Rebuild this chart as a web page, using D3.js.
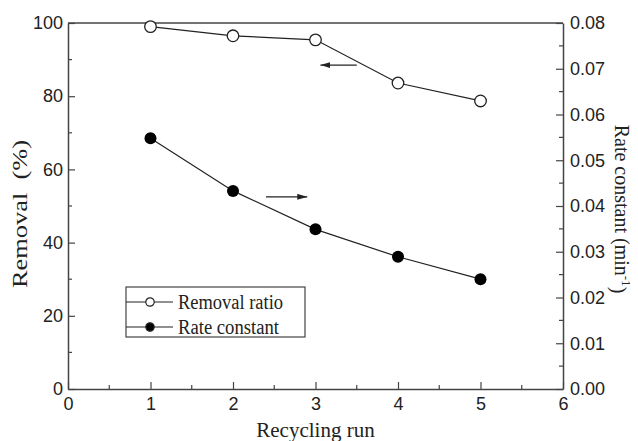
<!DOCTYPE html>
<html>
<head>
<meta charset="utf-8">
<script src="https://cdn.jsdelivr.net/npm/d3@7"></script>
<style>
  body { margin: 0; background: #fff; }
  .tick text { font-family: "Liberation Sans", Arial, sans-serif; font-size: 18px; fill: #222; }
  .title { font-family: "Liberation Serif", "Times New Roman", serif; font-size: 20px; fill: #222; }
</style>
</head>
<body>
<svg id="chart" width="638" height="441"></svg>
<script>
// Data
const runs = [1, 2, 3, 4, 5];
const removal = [99.0, 96.5, 95.4, 83.6, 78.7];
const rateConstant = [0.0548, 0.0433, 0.0349, 0.0289, 0.0240];
const xTicks = [0, 1, 2, 3, 4, 5, 6];
const leftTicks = [0, 20, 40, 60, 80, 100];
const rightTicks = [0, 0.01, 0.02, 0.03, 0.04, 0.05, 0.06, 0.07, 0.08];

const margin = { top: 23, right: 75, bottom: 52, left: 68 };
const width = 638 - margin.left - margin.right;
const height = 441 - margin.top - margin.bottom;
const ink = '#222';

const svg = d3.select('#chart');
const g = svg.append('g').attr('transform', `translate(${margin.left},${margin.top})`);

const x = d3.scaleLinear().domain([0, 6]).range([0, width]);
const yL = d3.scaleLinear().domain([0, 100]).range([height, 0]);
const yR = d3.scaleLinear().domain([0, 0.08]).range([height, 0]);

// Minor ticks (inside)
const minor = g.append('g').attr('stroke', '#444').attr('stroke-width', 1.2);
d3.range(0.5, 6, 1).forEach(v => {
    minor.append('line').attr('x1', x(v)).attr('x2', x(v)).attr('y1', height).attr('y2', height - 4);
});
d3.range(10, 100, 20).forEach(v => {
    minor.append('line').attr('x1', 0).attr('x2', 4).attr('y1', yL(v)).attr('y2', yL(v));
});
d3.range(0.005, 0.08, 0.01).forEach(v => {
    minor.append('line').attr('x1', width).attr('x2', width - 4).attr('y1', yR(v)).attr('y2', yR(v));
});

// Axes with inward ticks
const xAxis = g.append('g').attr('transform', `translate(0,${height})`)
    .call(d3.axisBottom(x).tickValues(xTicks).tickFormat(d3.format('d')).tickSizeInner(-7).tickSizeOuter(0).tickPadding(8));
const lAxis = g.append('g')
    .call(d3.axisLeft(yL).tickValues(leftTicks).tickFormat(d3.format('d')).tickSizeInner(-7).tickSizeOuter(0).tickPadding(5));
const rAxis = g.append('g').attr('transform', `translate(${width},0)`)
    .call(d3.axisRight(yR).tickValues(rightTicks).tickFormat(d3.format('.2f')).tickSizeInner(-7).tickSizeOuter(0).tickPadding(7));

[xAxis, lAxis, rAxis].forEach(a => {
    a.select('.domain').attr('stroke', '#444').attr('stroke-width', 1.5);
    a.selectAll('.tick line').attr('stroke', '#444').attr('stroke-width', 1.2);
    a.attr('font-size', null).attr('font-family', null);
});

// Top frame line
g.append('line').attr('x1', 0).attr('x2', width).attr('y1', 0).attr('y2', 0)
    .attr('stroke', '#444').attr('stroke-width', 1.5);

// Series
const lineL = d3.line().x((d, i) => x(runs[i])).y(d => yL(d));
const lineR = d3.line().x((d, i) => x(runs[i])).y(d => yR(d));

g.append('path').datum(removal).attr('d', lineL)
    .attr('fill', 'none').attr('stroke', ink).attr('stroke-width', 1.2);
g.append('path').datum(rateConstant).attr('d', lineR)
    .attr('fill', 'none').attr('stroke', ink).attr('stroke-width', 1.2);

g.selectAll('.open').data(removal).join('circle')
    .attr('class', 'open')
    .attr('cx', (d, i) => x(runs[i])).attr('cy', d => yL(d)).attr('r', 5.8)
    .attr('fill', '#fff').attr('stroke', ink).attr('stroke-width', 1.3);
g.selectAll('.filled').data(rateConstant).join('circle')
    .attr('class', 'filled')
    .attr('cx', (d, i) => x(runs[i])).attr('cy', d => yR(d)).attr('r', 6)
    .attr('fill', '#000');

// Arrows indicating which axis each series uses
svg.append('defs').append('marker')
    .attr('id', 'head').attr('viewBox', '0 0 10 6').attr('refX', 10).attr('refY', 3)
    .attr('markerWidth', 10).attr('markerHeight', 6).attr('markerUnits', 'userSpaceOnUse')
    .attr('orient', 'auto')
    .append('path').attr('d', 'M0,0 L10,3 L0,6 Z').attr('fill', ink);

g.append('line')
    .attr('x1', x(3.5)).attr('x2', x(3.06))
    .attr('y1', yL(88.5)).attr('y2', yL(88.5))
    .attr('stroke', ink).attr('stroke-width', 1.2).attr('marker-end', 'url(#head)');
g.append('line')
    .attr('x1', x(2.4)).attr('x2', x(2.9))
    .attr('y1', yR(0.042)).attr('y2', yR(0.042))
    .attr('stroke', ink).attr('stroke-width', 1.2).attr('marker-end', 'url(#head)');

// Legend
const legend = svg.append('g').attr('transform', 'translate(126,287)');
legend.append('rect').attr('width', 179).attr('height', 50)
    .attr('fill', '#fff').attr('stroke', '#444').attr('stroke-width', 1.2);
const legendItems = [
    { label: 'Removal ratio', fill: '#fff', len: 105 },
    { label: 'Rate constant', fill: '#000', len: 101 }
];
legendItems.forEach((item, i) => {
    const row = legend.append('g').attr('transform', `translate(0,${15 + i * 25})`);
    row.append('line').attr('x1', 0).attr('x2', 47).attr('stroke', ink).attr('stroke-width', 1.2);
    row.append('circle').attr('cx', 24).attr('r', 4.2)
        .attr('fill', item.fill).attr('stroke', ink).attr('stroke-width', 1.2);
    row.append('text').attr('class', 'title').attr('x', 52).attr('dy', '0.34em')
        .style('font-size', '20px')
        .attr('textLength', item.len).attr('lengthAdjust', 'spacingAndGlyphs')
        .text(item.label);
});

// Axis titles
svg.append('text').attr('class', 'title')
    .attr('text-anchor', 'middle')
    .style('font-size', '21px')
    .attr('x', margin.left + width / 2).attr('y', 437)
    .text('Recycling run');

svg.append('text').attr('class', 'title')
    .attr('text-anchor', 'middle')
    .style('font-size', '21px')
    .attr('textLength', 148).attr('lengthAdjust', 'spacingAndGlyphs')
    .attr('transform', `translate(27,214) rotate(-90)`)
    .attr('xml:space', 'preserve')
    .text('Removal  (%)');

const rTitle = svg.append('text').attr('class', 'title')
    .attr('text-anchor', 'middle')
    .attr('transform', `translate(615,${margin.top + height / 2 + 3}) rotate(90)`);
rTitle.append('tspan').text('Rate constant (min');
rTitle.append('tspan').attr('dy', '-0.5em').style('font-size', '13px').text('-1');
rTitle.append('tspan').attr('dy', '0.5em').text(')');
</script>
</body>
</html>
